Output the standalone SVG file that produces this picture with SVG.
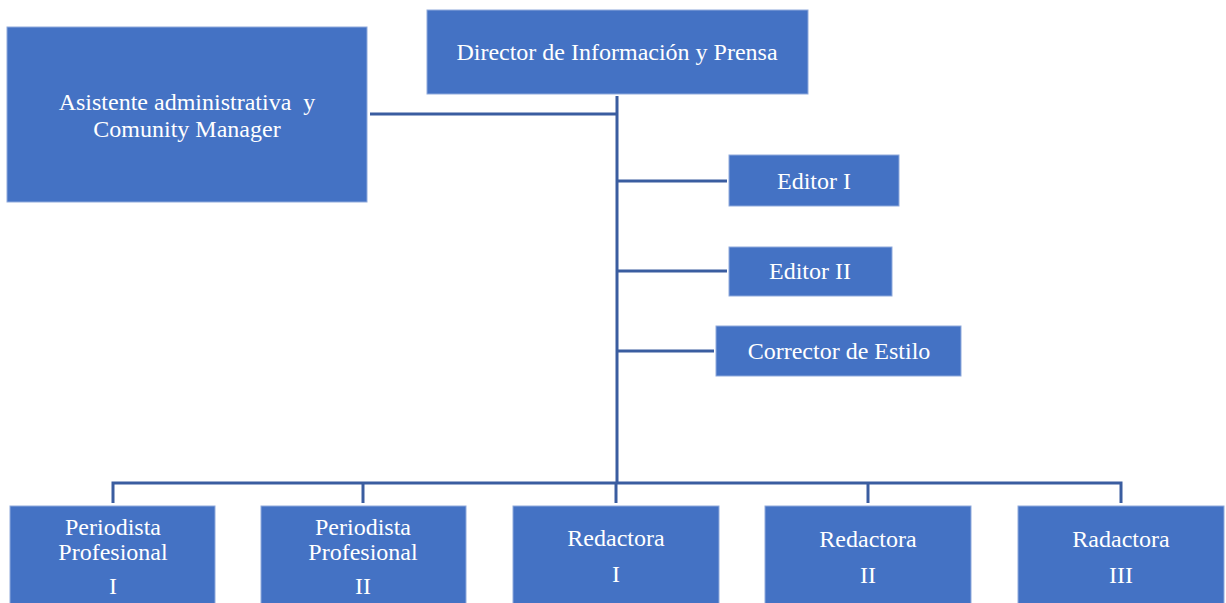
<svg xmlns="http://www.w3.org/2000/svg" width="1226" height="603" viewBox="0 0 1226 603">
<style>
.box{fill:#4472C4;stroke:#8FAADC;stroke-width:1}
.t{font-family:"Liberation Serif","Times New Roman",serif;font-size:24px;fill:#fff;text-anchor:middle}
.c{stroke:#3A5DA0;stroke-width:3;fill:none}
</style>
<rect width="1226" height="603" fill="#fff"/>
<g id="connectors">
<line class="c" x1="617" y1="96" x2="617" y2="484"/>
<line class="c" x1="370" y1="114" x2="617" y2="114"/>
<line class="c" x1="617" y1="181" x2="727" y2="181"/>
<line class="c" x1="617" y1="271" x2="727" y2="271"/>
<line class="c" x1="617" y1="351" x2="714" y2="351"/>
<polyline class="c" points="113,503 113,483 1121,483 1121,503"/>
<line class="c" x1="363" y1="483" x2="363" y2="503"/>
<line class="c" x1="616" y1="483" x2="616" y2="503"/>
<line class="c" x1="868" y1="483" x2="868" y2="503"/>
</g>
<g id="director">
<rect class="box" x="427" y="10" width="381" height="84"/>
<text class="t" x="617" y="60">Director de Información y Prensa</text>
</g>
<g id="asistente">
<rect class="box" x="7" y="27" width="360" height="175"/>
<text class="t" x="187" y="110" xml:space="preserve">Asistente administrativa  y</text>
<text class="t" x="187" y="137">Comunity Manager</text>
</g>
<g id="editor1">
<rect class="box" x="729" y="155" width="170" height="51"/>
<text class="t" x="814" y="189">Editor I</text>
</g>
<g id="editor2">
<rect class="box" x="729" y="247" width="163" height="49"/>
<text class="t" x="810" y="279">Editor II</text>
</g>
<g id="corrector">
<rect class="box" x="716" y="326" width="245" height="50"/>
<text class="t" x="839" y="359">Corrector de Estilo</text>
</g>
<g id="periodista1">
<rect class="box" x="10" y="506" width="205" height="100"/>
<text class="t" x="113" y="535">Periodista</text>
<text class="t" x="113" y="560">Profesional</text>
<text class="t" x="113" y="594">I</text>
</g>
<g id="periodista2">
<rect class="box" x="261" y="506" width="205" height="100"/>
<text class="t" x="363" y="535">Periodista</text>
<text class="t" x="363" y="560">Profesional</text>
<text class="t" x="363" y="594">II</text>
</g>
<g id="redactora1">
<rect class="box" x="513" y="506" width="206" height="100"/>
<text class="t" x="616" y="546">Redactora</text>
<text class="t" x="616" y="582">I</text>
</g>
<g id="redactora2">
<rect class="box" x="765" y="506" width="206" height="100"/>
<text class="t" x="868" y="547">Redactora</text>
<text class="t" x="868" y="583">II</text>
</g>
<g id="radactora3">
<rect class="box" x="1018" y="506" width="206" height="100"/>
<text class="t" x="1121" y="547">Radactora</text>
<text class="t" x="1121" y="583">III</text>
</g>
</svg>
